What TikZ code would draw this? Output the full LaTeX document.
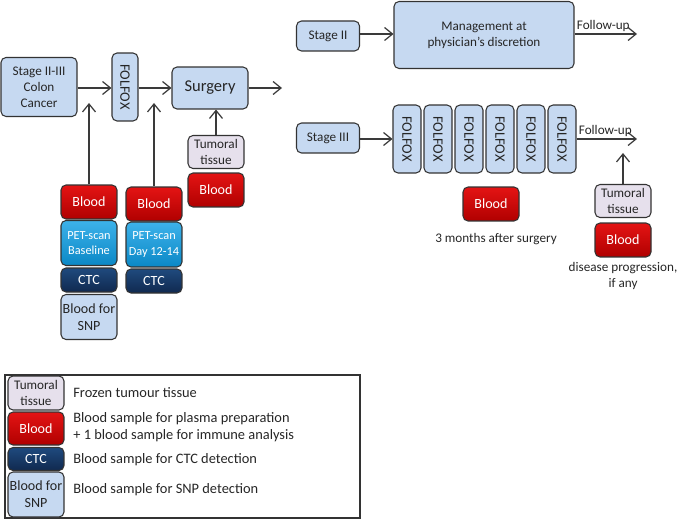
\documentclass[tikz,border=0pt]{standalone}
\usepackage{fontspec}
\setmainfont{Carlito}
\usepackage{tikz}
\usetikzlibrary{arrows.meta}
\definecolor{hblau}{HTML}{C6D9F1}
\definecolor{lila}{HTML}{E6E0EC}
\definecolor{rotoben}{HTML}{E41414}
\definecolor{rotunten}{HTML}{B00000}
\definecolor{petoben}{HTML}{3DB2EA}
\definecolor{petunten}{HTML}{0B88C6}
\definecolor{ctcoben}{HTML}{1F4A7E}
\definecolor{ctcunten}{HTML}{10294F}
\definecolor{rand}{HTML}{333333}
\definecolor{schrift}{HTML}{262626}
\definecolor{linie}{HTML}{3A3A3A}
\tikzset{
  arr/.style={-{Straight Barb[length=1.6mm,width=2.6mm]},linie,line width=0.7pt},
  kasten/.style={draw=rand,line width=0.6pt,rounded corners=0.1cm,inner sep=0pt,align=center,
    text=schrift,font=\fontsize{7.5}{9}\selectfont},
  stage/.style={kasten,fill=hblau},
  chemo/.style={kasten,fill=hblau,rotate=-90,minimum width=1.36cm,font=\fontsize{8.2}{9}\selectfont},
  sample/.style={kasten,minimum width=1.12cm},
  blood/.style={sample,top color=rotoben,bottom color=rotunten,text=white,
    minimum height=0.68cm,font=\fontsize{8}{9}\selectfont},
  petscan/.style={sample,top color=petoben,bottom color=petunten,text=white,
    minimum height=0.9cm,font=\fontsize{7}{8.8}\selectfont},
  ctc/.style={sample,top color=ctcoben,bottom color=ctcunten,text=white,
    minimum height=0.48cm,font=\fontsize{8}{9}\selectfont},
  snp/.style={sample,fill=hblau,minimum height=0.9cm,font=\fontsize{8}{9.5}\selectfont},
  tissue/.style={sample,fill=lila,minimum height=0.66cm},
  note/.style={text=schrift,font=\fontsize{7.5}{9}\selectfont,align=center},
  legtext/.style={text=schrift,font=\fontsize{8.2}{9.8}\selectfont,anchor=west,align=left,inner sep=0pt},
}
\begin{document}
\begin{tikzpicture}[x=0.02cm,y=-0.02cm]
  \useasboundingbox (0,0) rectangle (685,520);
  % left part
  \node[stage,minimum width=1.52cm,minimum height=1.18cm] (colon) at (39,87) {Stage II-III\\Colon\\Cancer};
  \node[chemo,minimum height=0.52cm] (folfox) at (125,87) {FOLFOX};
  \node[stage,minimum width=1.52cm,minimum height=0.84cm,font=\fontsize{9.4}{11}\selectfont] (surgery) at (210,88) {Surgery};
  \coordinate (aus) at (282,88);
  % rotated boxes: south is on the left, north on the right
  \draw[arr] (colon.east |- 0,88) -- (folfox.south |- 0,88);
  \draw[arr] (folfox.north |- 0,88) -- (surgery.west);
  \draw[arr] (surgery.east) -- (aus);
  \node[blood] (blood1) at (89,202) {Blood};
  \node[petscan] (pet1) at (89,243) {PET-scan\\Baseline};
  \node[ctc] (ctc1) at (89,280) {CTC};
  \node[snp] (snp1) at (89,317) {Blood for\\SNP};
  \node[blood] (blood2) at (154,204) {Blood};
  \node[petscan] (pet2) at (154,244.5) {PET-scan\\Day 12-14};
  \node[ctc] (ctc2) at (154,281) {CTC};
  \node[tissue] (tissue1) at (216,152) {Tumoral\\tissue};
  \node[blood] (blood3) at (216,190) {Blood};
  \coordinate (ziel1) at (89,103);
  \coordinate (ziel2) at (154,103);
  \draw[arr] (blood1) -- (ziel1);
  \draw[arr] (blood2) -- (ziel2);
  \draw[arr] (tissue1) -- (tissue1 |- surgery.south);
  % stage II
  \node[stage,minimum width=1.26cm,minimum height=0.6cm] (st2) at (328,36) {Stage II};
  \node[stage,minimum width=3.6cm,minimum height=1.34cm] (mgmt) at (484,35) {Management at\\physician's discretion};
  \coordinate (fu1) at (637,34);
  \draw[arr] (st2.east |- 0,34) -- (mgmt.west |- 0,34);
  \draw[arr] (mgmt.east |- 0,34) -- (fu1) node[note,pos=0,anchor=south west,inner sep=1pt] {Follow-up};
  % stage III
  \node[stage,minimum width=1.26cm,minimum height=0.6cm] (st3) at (328,138) {Stage III};
  \foreach \i/\x in {1/407,2/438,3/469,4/500,5/531,6/562}
    \node[chemo,minimum height=0.56cm] (cyc\i) at (\x,139) {FOLFOX};
  \coordinate (fu2) at (637,139);
  \draw[arr] (st3.east |- 0,139) -- (cyc1.south |- 0,139);
  \draw[arr] (cyc6.north |- 0,139) -- (fu2) node[note,pos=0,anchor=south west,inner sep=1pt] {Follow-up};
  \node[blood] (blood4) at (491,204) {Blood};
  \node[note] at (496,239) {3 months after surgery};
  \node[tissue] (tissue2) at (623,201) {Tumoral\\tissue};
  \node[blood] (blood5) at (623,240) {Blood};
  \node[note] at (623,276) {disease progression,\\if any};
  \coordinate (ziel3) at (623,153);
  \draw[arr] (tissue2) -- (ziel3);
  % legend
  \draw[rand,line width=0.6pt] (5,375) rectangle (360,518);
  \node[tissue,minimum height=0.68cm] (lt) at (36,393) {Tumoral\\tissue};
  \node[blood,minimum height=0.66cm] (lb) at (36,428.5) {Blood};
  \node[ctc,minimum height=0.46cm] (lc) at (36,459) {CTC};
  \node[snp] (ls) at (36,494.5) {Blood for\\SNP};
  \node[legtext] at (73,393) {Frozen tumour tissue};
  \node[legtext] at (73,427.5) {Blood sample for plasma preparation\\+ 1 blood sample for immune analysis};
  \node[legtext] at (73,460) {Blood sample for CTC detection};
  \node[legtext] at (73,490) {Blood sample for SNP detection};
\end{tikzpicture}
\end{document}
